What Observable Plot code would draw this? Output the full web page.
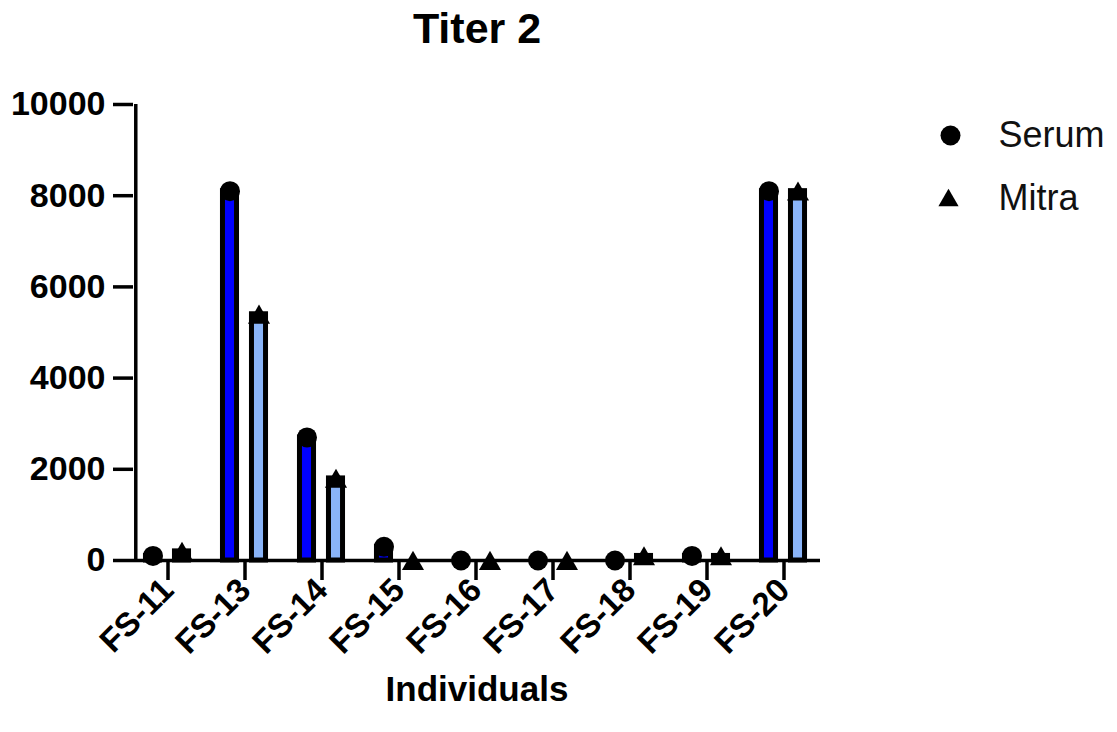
<!DOCTYPE html>
<html><head><meta charset="utf-8">
<script src="https://cdn.jsdelivr.net/npm/d3@7"></script>
<script src="https://cdn.jsdelivr.net/npm/@observablehq/plot@0.6"></script>
<style>body{margin:0;background:#fff;} #chart svg{display:block;}</style>
</head><body><div id="chart"></div>
<script>
const categories = ["FS-11","FS-13","FS-14","FS-15","FS-16","FS-17","FS-18","FS-19","FS-20"];
const seriesNames = ["Serum","Mitra"];
const serumValues = [100, 8100, 2700, 300, 0, 0, 0, 100, 8100];
const mitraValues = [200, 5400, 1800, 0, 0, 0, 100, 100, 8100];
const yTicks = [0, 2000, 4000, 6000, 8000, 10000];
const titleText = "Titer 2";
const xLabelText = "Individuals";

const rows = categories.flatMap((c, i) => [
  {cat: c, series: "Serum", value: serumValues[i]},
  {cat: c, series: "Mitra", value: mitraValues[i]}
]);
const serum = rows.filter(d => d.series === "Serum");
const mitra = rows.filter(d => d.series === "Mitra");

const W = 1117, H = 732, mL = 133, mR = 297, mT = 104, mB = 172;
const xRange = [126.5, 823.5];
const bw = (xRange[1] - xRange[0]) / categories.length;
const barW = 14.5;
const inset = (bw - barW) / 2;
const offS = -15, offM = 14;
const font = "'Liberation Sans', Arial, sans-serif";
const right = W - mR;

const legendMarks = [
  Plot.dot([seriesNames[0]], {frameAnchor: "top-right", dx: 950 - right, dy: 135 - mT, r: 10, symbol: "circle", fill: "black"}),
  Plot.text([seriesNames[0]], {frameAnchor: "top-right", dx: 998 - right, dy: 135 - mT, textAnchor: "start", lineAnchor: "middle", fontSize: 36, fill: "#111"}),
  Plot.dot([seriesNames[1]], {frameAnchor: "top-right", dx: 948 - right, dy: 200 - mT, r: 7.5, symbol: "triangle", fill: "black"}),
  Plot.text([seriesNames[1]], {frameAnchor: "top-right", dx: 998 - right, dy: 198 - mT, textAnchor: "start", lineAnchor: "middle", fontSize: 36, fill: "#111"})
];

const chart = Plot.plot({
  width: W, height: H,
  marginLeft: mL, marginRight: mR, marginTop: mT, marginBottom: mB,
  style: {fontFamily: font, color: "black", background: "white"},
  x: {type: "band", domain: categories, range: xRange, padding: 0, axis: null},
  y: {domain: [0, 10000], axis: null},
  marks: [
    Plot.barY(serum, {x: "cat", y: "value", fill: "#0000ff", stroke: "black", strokeWidth: 5, insetLeft: inset, insetRight: inset, dx: offS}),
    Plot.barY(mitra, {x: "cat", y: "value", fill: "#8ab4f8", stroke: "black", strokeWidth: 5, insetLeft: inset, insetRight: inset, dx: offM}),
    Plot.ruleY([0], {stroke: "black", strokeWidth: 3.5}),
    Plot.ruleX([categories[0]], {x: d => d, y1: 0, y2: 10000, dx: mL - (xRange[0] + bw / 2), stroke: "black", strokeWidth: 3.5}),
    Plot.dot(serum, {x: "cat", y: "value", dx: offS, r: 10, symbol: "circle", fill: "black"}),
    Plot.dot(mitra, {x: "cat", y: "value", dx: offM, dy: 3, r: 8.2, symbol: "triangle", fill: "black"}),
    Plot.axisY({ticks: yTicks, tickSize: 20, tickPadding: 8, fontSize: 34, fontWeight: "bold", strokeWidth: 3.5, tickFormat: d => String(d), label: null}),
    Plot.axisX({tickSize: 20, tickRotate: -45, tickPadding: 4, fontSize: 33, fontWeight: "bold", strokeWidth: 3.5, label: null}),
    Plot.text([titleText], {frameAnchor: "top", dy: 29 - mT, lineAnchor: "middle", fontSize: 43, fontWeight: "bold"}),
    Plot.text([xLabelText], {frameAnchor: "bottom", dy: 700 - (H - mB), fontSize: 35, fontWeight: "bold"}),
    ...legendMarks
  ]
});
document.getElementById("chart").appendChild(chart);
</script>
</body></html>
